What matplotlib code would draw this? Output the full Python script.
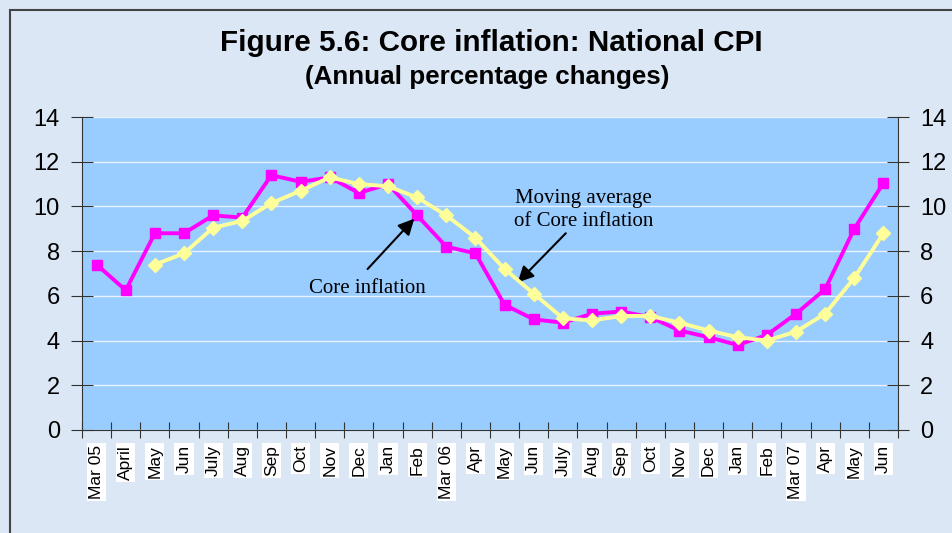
import matplotlib
matplotlib.use("Agg")
import matplotlib.pyplot as plt
from matplotlib.patches import Rectangle
import numpy as np

months = ["Mar 05", "April", "May", "Jun", "July", "Aug", "Sep", "Oct", "Nov", "Dec",
          "Jan", "Feb", "Mar 06", "Apr", "May", "Jun", "July", "Aug", "Sep", "Oct",
          "Nov", "Dec", "Jan", "Feb", "Mar 07", "Apr", "May", "Jun"]

core_inflation = [7.4, 6.25, 8.8, 8.8, 9.6, 9.5, 11.4, 11.1, 11.3, 10.6,
                  11.0, 9.6, 8.2, 7.9, 5.6, 4.95, 4.8, 5.2, 5.3, 5.05,
                  4.45, 4.15, 3.8, 4.25, 5.2, 6.3, 9.0, 11.05]

moving_average = [None, None, 7.4, 7.9, 9.05, 9.35, 10.15, 10.7, 11.3, 11.0,
                  10.9, 10.4, 9.6, 8.6, 7.2, 6.1, 5.0, 4.9, 5.1, 5.1,
                  4.8, 4.45, 4.15, 4.0, 4.4, 5.2, 6.8, 8.8]

yticks = [0, 2, 4, 6, 8, 10, 12, 14]

fig = plt.figure(figsize=(9.53, 5.33), dpi=100)
fig.patch.set_facecolor("#dbe7f5")
fig.add_artist(Rectangle((10 / 953, -0.05), 1.1, 1 - 10 / 533 + 0.05, transform=fig.transFigure,
                         fill=False, edgecolor="#444444", linewidth=1.5))

ax = fig.add_axes([82 / 953, 103 / 533, 816 / 953, 313 / 533])
ax.set_facecolor("#99ccff")

x = list(range(len(months)))
ma_x = [i for i, v in zip(x, moving_average) if v is not None]
ma_y = [v for v in moving_average if v is not None]

ax.plot(x, core_inflation, color="#ff00ff", linewidth=2.8, marker="s", markersize=6.5,
        zorder=3)
ax.plot(ma_x, ma_y, color="#ffff99", linewidth=2.8, marker="D", markersize=7.5,
        zorder=4)

ax.set_xlim(-0.5, len(months) - 0.5)
ax.set_ylim(0, 14)
ax.set_yticks(yticks)
ax.grid(axis="y", color="#e8f2ff", linewidth=1)
ax.set_axisbelow(True)

# category boundaries as major ticks, labels at centres on minor ticks
ax.set_xticks(np.arange(-0.5, len(months), 1.0))
ax.set_xticklabels([])
ax.set_xticks(x, minor=True)
ax.set_xticklabels(months, minor=True, rotation=90, fontsize=12.5,
                   family="Liberation Sans", va="top", ha="center")
for lbl in ax.get_xticklabels(minor=True):
    lbl.set_bbox(dict(facecolor="white", edgecolor="none", pad=1.5))
ax.tick_params(axis="x", which="major", direction="inout", length=12, color="#333333")
ax.tick_params(axis="x", which="minor", length=0, pad=11)
ax.tick_params(axis="y", direction="inout", length=16, labelsize=17, color="#333333",
               left=True, right=True, labelleft=True, labelright=True, pad=8)
for lbl in ax.get_yticklabels():
    lbl.set_family("Liberation Sans")

ax.spines["top"].set_visible(False)
for side in ["left", "bottom", "right"]:
    ax.spines[side].set_color("#333333")

fig.text(491 / 953, 1 - 43 / 533, "Figure 5.6: Core inflation: National CPI", ha="center",
         va="center", fontsize=21.3, fontweight="bold", family="Liberation Sans")
fig.text(487 / 953, 1 - 77 / 533, "(Annual percentage changes)", ha="center", va="center",
         fontsize=18.7, fontweight="bold", family="Liberation Sans")

ax.text(9.3, 6.35, "Core inflation", fontsize=15, family="Liberation Serif",
        ha="center", va="center")
ax.annotate("", xy=(10.9, 9.45), xytext=(9.3, 7.2),
            arrowprops=dict(arrowstyle="-|>", color="black", lw=1.5,
                            mutation_scale=24, shrinkA=0, shrinkB=0))
ax.text(16.7, 9.85, "Moving average\nof Core inflation", fontsize=15,
        family="Liberation Serif", ha="center", va="center", linespacing=1.3)
ax.annotate("", xy=(14.45, 6.6), xytext=(16.1, 8.8),
            arrowprops=dict(arrowstyle="-|>", color="black", lw=1.5,
                            mutation_scale=24, shrinkA=0, shrinkB=0))

fig.savefig("out.png", dpi=100, facecolor=fig.get_facecolor())
